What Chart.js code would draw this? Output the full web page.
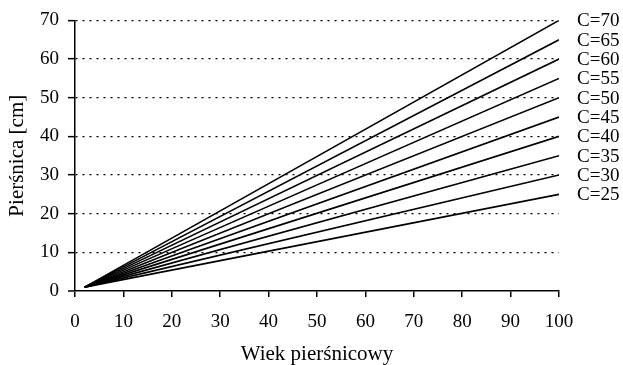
<!DOCTYPE html>
<html>
<head>
<meta charset="utf-8">
<script src="https://cdn.jsdelivr.net/npm/chart.js@4/dist/chart.umd.min.js"></script>
<style>
  html, body { margin: 0; padding: 0; background: #fff; }
  #wrap { width: 623px; height: 365px; }
</style>
</head>
<body>
<div id="wrap"><canvas id="diamChart"></canvas></div>
<script>
// curve classes C and their line start / end points
const classes = [25, 30, 35, 40, 45, 50, 55, 60, 65, 70];
const ageStart = 2;
const ageEnd = 100;
const diamStart = [1, 1, 1, 1, 1, 1, 1, 1, 1, 1];
const diamEnd = [25, 30, 35, 40, 45, 50, 55, 60, 65, 70];
const xTicks = [0, 10, 20, 30, 40, 50, 60, 70, 80, 90, 100];
const yTicks = [0, 10, 20, 30, 40, 50, 60, 70];

const FONT = "'Liberation Serif', 'DejaVu Serif', serif";

const datasets = classes.map(function(c, i) {
  return {
    label: 'C=' + c,
    data: [{ x: ageStart, y: diamStart[i] }, { x: ageEnd, y: diamEnd[i] }],
    showLine: true,
    borderColor: '#000',
    borderWidth: 1.6,
    pointRadius: 0,
    fill: false
  };
});

// labels "C=.." written at the right end of each line
const endLabels = {
  id: 'endLabels',
  afterDatasetsDraw(chart) {
    const ctx = chart.ctx;
    ctx.save();
    ctx.font = '19px ' + FONT;
    ctx.fillStyle = '#000';
    ctx.textBaseline = 'middle';
    chart.data.datasets.forEach(function(ds, i) {
      const meta = chart.getDatasetMeta(i);
      const last = meta.data[meta.data.length - 1];
      ctx.fillText(ds.label, last.x + 18, last.y + 1);
    });
    ctx.restore();
  }
};

new Chart(document.getElementById('diamChart'), {
  type: 'scatter',
  data: { datasets: datasets },
  plugins: [endLabels],
  options: {
    responsive: true,
    maintainAspectRatio: false,
    animation: false,
    layout: { padding: { top: 20, right: 64, bottom: 0, left: 5 } },
    plugins: { legend: { display: false }, tooltip: { enabled: false } },
    scales: {
      x: {
        type: 'linear',
        min: 0,
        max: 100,
        afterBuildTicks: function(axis) { axis.ticks = xTicks.map(function(v) { return { value: v }; }); },
        afterFit: function(axis) { axis.height = 74; },
        border: { display: true, color: '#000', width: 1.5 },
        grid: { drawOnChartArea: false, drawTicks: true, tickLength: 6, color: '#000', lineWidth: 1.5 },
        ticks: { color: '#000', font: { family: FONT, size: 19 }, padding: 14, maxRotation: 0 },
        title: { display: true, text: 'Wiek pierśnicowy', color: '#000', font: { family: FONT, size: 21, lineHeight: 1 }, padding: 0 }
      },
      y: {
        min: 0,
        max: 70,
        afterBuildTicks: function(axis) { axis.ticks = yTicks.map(function(v) { return { value: v }; }); },
        afterFit: function(axis) { axis.width = 70; },
        border: { display: true, color: '#000', width: 1.5, dash: [2, 5] },
        grid: {
          drawTicks: true,
          tickLength: 7,
          color: '#000',
          lineWidth: function(c) { return c.tick && c.tick.value === 0 ? 0 : 1.3; },
          tickBorderDash: [],
          tickColor: '#000',
          tickWidth: 1.5
        },
        ticks: { color: '#000', font: { family: FONT, size: 19 }, padding: 9 },
        title: { display: true, text: 'Pierśnica [cm]', color: '#000', font: { family: FONT, size: 21 }, padding: 0 }
      }
    }
  }
});
</script>
</body>
</html>
